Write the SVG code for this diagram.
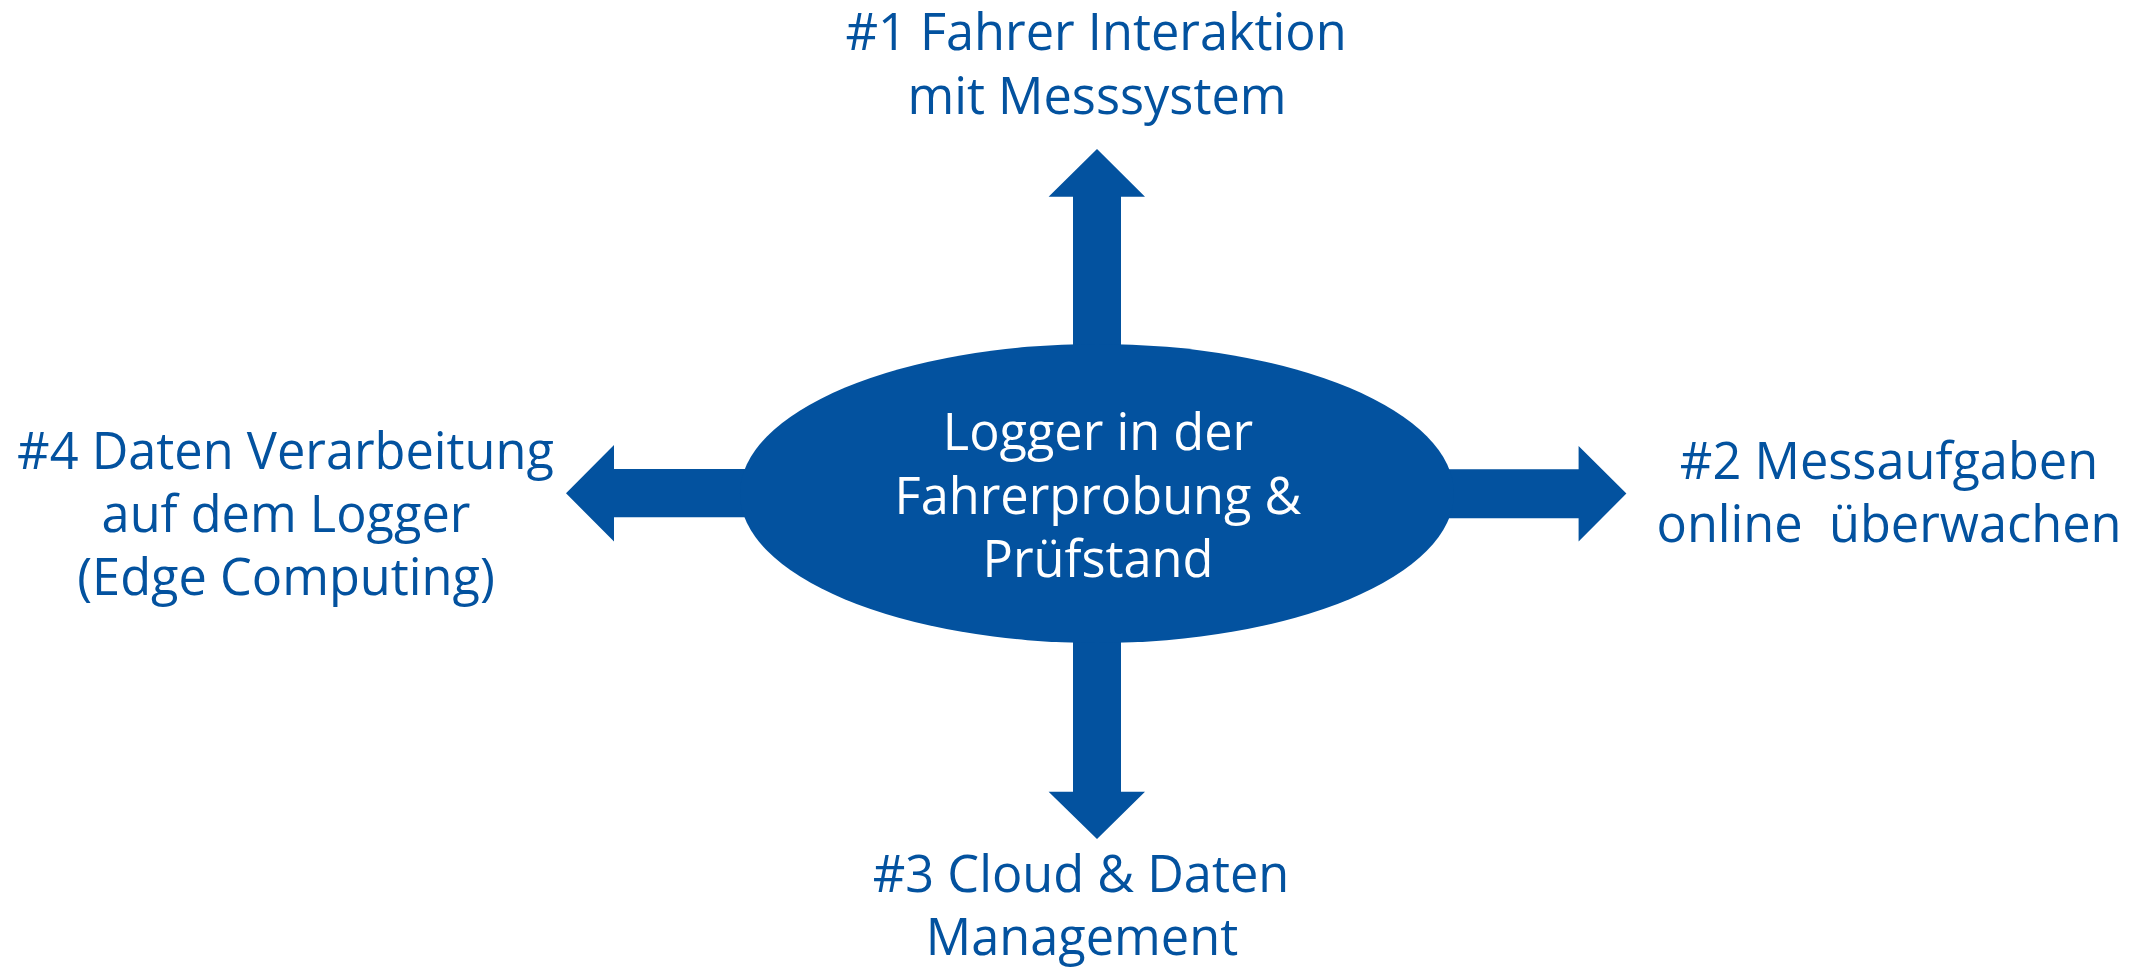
<svg xmlns="http://www.w3.org/2000/svg" width="2141" height="967" viewBox="0 0 2141 967">
<style>
.bg{fill:#ffffff}
.arrow{fill:#03529F;stroke:none}
.hub{fill:#03529F;stroke:none}
.lbl{font-family:"Open Sans","Noto Sans","Liberation Sans",sans-serif;font-size:50.5px;fill:#03529F;text-anchor:middle;white-space:pre}
.hubtxt{font-family:"Open Sans","Noto Sans","Liberation Sans",sans-serif;font-size:50.5px;fill:#ffffff;text-anchor:middle}
</style>
<rect class="bg" x="0" y="0" width="2141" height="967"/>
<g id="connectors">
<polygon class="arrow" points="1073,360 1073,196.7 1048.6,196.7 1097,149 1145,196.7 1121,196.7 1121,360"/>
<polygon class="arrow" points="1073,630 1073,791.7 1048.6,791.7 1097,839 1145,791.7 1121,791.7 1121,630"/>
<polygon class="arrow" points="760,469 614,469 614,445 566,493.3 614,541.5 614,517.3 760,517.3"/>
<polygon class="arrow" points="1435,469.3 1578.6,469.3 1578.6,446 1626.4,493.5 1578.6,541.5 1578.6,518.3 1435,518.3"/>
</g>
<g id="hub">
<ellipse class="hub" cx="1097" cy="493.5" rx="357" ry="149.5"/>
<text class="hubtxt" x="1098" y="450">Logger in der</text>
<text class="hubtxt" x="1098" y="513.5">Fahrerprobung &amp;</text>
<text class="hubtxt" x="1098" y="577">Prüfstand</text>
</g>
<g id="n1">
<text class="lbl" x="1096" y="50">#1 Fahrer Interaktion</text>
<text class="lbl" x="1097" y="113.5">mit Messsystem</text>
</g>
<g id="n2">
<text class="lbl" x="1889" y="479">#2 Messaufgaben</text>
<text class="lbl" x="1889" y="541.5" xml:space="preserve">online  überwachen</text>
</g>
<g id="n3">
<text class="lbl" x="1081" y="891.5">#3 Cloud &amp; Daten</text>
<text class="lbl" x="1082" y="955">Management</text>
</g>
<g id="n4">
<text class="lbl" x="285.5" y="468.5">#4 Daten Verarbeitung</text>
<text class="lbl" x="286" y="532">auf dem Logger</text>
<text class="lbl" x="286" y="595">(Edge Computing)</text>
</g>
</svg>
